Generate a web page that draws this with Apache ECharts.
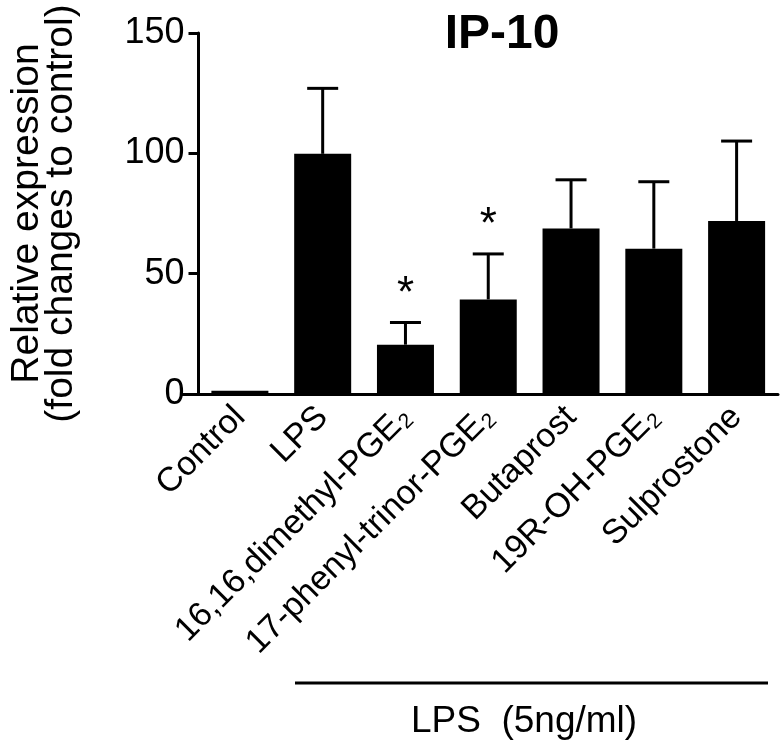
<!DOCTYPE html>
<html>
<head>
<meta charset="utf-8">
<script src="https://cdn.jsdelivr.net/npm/echarts@6/dist/echarts.min.js"></script>
<style>
  html, body { margin: 0; padding: 0; background: #fff; }
  #chart { width: 784px; height: 748px; }
</style>
</head>
<body>
<div id="chart"></div>
<script>
const categories = ['Control', 'LPS', '16,16,dimethyl-PGE2', '17-phenyl-trinor-PGE2', 'Butaprost', '19R-OH-PGE2', 'Sulprostone'];
const meanValues = [1.4, 99.8, 20.5, 39.3, 68.8, 60.4, 71.9];
const errorUpper = [null, 127.0, 29.7, 58.2, 89.0, 88.2, 105.1];
const significance = ['', '', '*', '*', '', '', ''];
const yTicks = [0, 50, 100, 150];

const FONT = '"Liberation Sans", Arial, Helvetica, sans-serif';

const chart = echarts.init(document.getElementById('chart'), null, { renderer: 'canvas' });

function fmtLabel(v) {
  if (/PGE2$/.test(v)) {
    return '{n|' + v.slice(0, -1) + '}{s|2}';
  }
  return '{n|' + v + '}';
}

const errData = categories.map((c, i) => [i, meanValues[i], errorUpper[i], significance[i]]);

const option = {
  backgroundColor: '#fff',
  animation: false,
  title: {
    text: 'IP-10',
    left: 497,
    top: 6,
    textAlign: 'center',
    textStyle: { fontFamily: FONT, fontWeight: 'bold', fontSize: 48, color: '#000' }
  },
  grid: { left: 190, top: 33, width: 588, height: 361, containLabel: false },
  xAxis: {
    type: 'category',
    data: categories,
    axisLine: { lineStyle: { color: '#000', width: 3 } },
    axisTick: { alignWithLabel: true, length: 10, lineStyle: { color: '#000', width: 3 } },
    axisLabel: {
      rotate: 45,
      margin: 18,
      interval: 0,
      color: '#000',
      formatter: fmtLabel,
      rich: {
        n: { fontFamily: FONT, fontSize: 34, color: '#000' },
        s: { fontFamily: FONT, fontSize: 21, color: '#000', verticalAlign: 'bottom', padding: [15, 0, 0, 1] }
      }
    }
  },
  yAxis: {
    type: 'value',
    min: 0,
    max: 150,
    interval: 50,
    name: 'Relative expression\n(fold changes to control)',
    nameLocation: 'middle',
    nameGap: 120,
    nameRotate: 90,
    nameTextStyle: { fontFamily: FONT, fontSize: 39, color: '#000', lineHeight: 34 },
    axisLine: { show: true, lineStyle: { color: '#000', width: 3 } },
    axisTick: { show: true, length: 10, lineStyle: { color: '#000', width: 3 } },
    axisLabel: {
      margin: 14,
      color: '#000',
      fontFamily: FONT,
      fontSize: 36,
      formatter: v => (yTicks.includes(v) ? String(v) : '')
    },
    splitLine: { show: false }
  },
  series: [
    {
      type: 'bar',
      data: meanValues,
      barWidth: 57,
      itemStyle: { color: '#000' },
      z: 2
    },
    {
      type: 'custom',
      data: errData,
      z: 3,
      renderItem: function (params, api) {
        const i = api.value(0);
        const m = api.value(1);
        const up = api.value(2);
        const sig = significance[i];
        const children = [];
        if (up != null && !isNaN(up)) {
          const p0 = api.coord([i, m]);
          const p1 = api.coord([i, up]);
          children.push({
            type: 'line',
            shape: { x1: p0[0], y1: p0[1], x2: p1[0], y2: p1[1] },
            style: { stroke: '#000', lineWidth: 3 }
          });
          children.push({
            type: 'line',
            shape: { x1: p1[0] - 15.5, y1: p1[1], x2: p1[0] + 15.5, y2: p1[1] },
            style: { stroke: '#000', lineWidth: 3 }
          });
          if (sig) {
            children.push({
              type: 'text',
              style: {
                text: sig, x: p1[0], y: p1[1] - 28,
                textAlign: 'center', textVerticalAlign: 'middle',
                fontFamily: FONT, fontSize: 44, fill: '#000'
              }
            });
          }
        }
        return { type: 'group', children: children };
      }
    }
  ],
  graphic: [
    {
      type: 'line',
      shape: { x1: 180, y1: 394.5, x2: 190, y2: 394.5 },
      style: { stroke: '#000', lineWidth: 3 }
    },
    {
      type: 'line',
      shape: { x1: 295, y1: 683, x2: 768, y2: 683 },
      style: { stroke: '#000', lineWidth: 3 }
    },
    {
      type: 'text',
      x: 524,
      y: 722,
      style: {
        text: 'LPS  (5ng/ml)',
        textAlign: 'center',
        textVerticalAlign: 'middle',
        fontFamily: FONT,
        fontSize: 37,
        fill: '#000'
      }
    }
  ]
};

chart.setOption(option);
</script>
</body>
</html>
